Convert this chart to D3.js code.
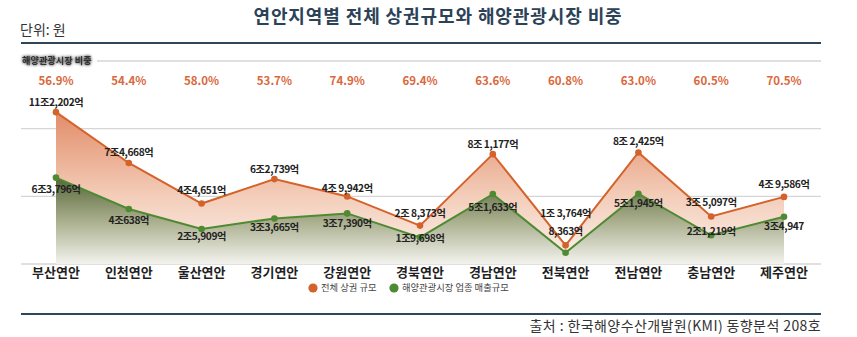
<!DOCTYPE html>
<html><head><meta charset="utf-8">
<script src="https://cdn.jsdelivr.net/npm/d3@7"></script>
<style>
html,body{margin:0;padding:0;background:#fff;}
svg{display:block;font-family:"Noto Sans CJK KR","Noto Sans",sans-serif;}
</style></head>
<body>
<svg id="chart" width="857" height="337"></svg>
<script>
// ---- data ----
const categories = ["부산연안","인천연안","울산연안","경기연안","강원연안","경북연안","경남연안","전북연안","전남연안","충남연안","제주연안"];
// 단위: 조 원
const totalMarket = [11.2202, 7.4668, 4.4651, 6.2739, 4.9942, 2.8373, 8.1177, 1.3764, 8.2425, 3.5097, 4.9586];
const marineTourism = [6.3796, 4.0638, 2.5909, 3.3665, 3.7390, 1.9698, 5.1633, 0.8363, 5.1945, 2.1219, 3.4947];
const shareLabels = ["56.9%","54.4%","58.0%","53.7%","74.9%","69.4%","63.6%","60.8%","63.0%","60.5%","70.5%"];
const totalLabels = ["11조2,202억","7조4,668억","4조4,651억","6조2,739억","4조 9,942억","2조 8,373억","8조 1,177억","1조 3,764억","8조 2,425억","3조 5,097억","4조 9,586억"];
const marineLabels = ["6조3,796억","4조638억","2조5,909억","3조3,665억","3조7,390억","1조9,698억","5조1,633억","8,363억","5조1,945억","2조1,219억","3조4,947"];
const gridTicks = [0, 5, 10, 15];

// ---- layout / style ----
const totalLabelDy = [-9,-10,-12,-9,-7,-11,-9,-31,-10,-13,-12];
const marineLabelDy = [13,12,8,10,11,2,14,-20,11,-3,11];
const orange = "#d4622a", green = "#4e8a32";

const svg = d3.select("#chart");
const x = d3.scalePoint().domain(categories).range([56, 784]);
const y = d3.scaleLinear().domain([0, 15]).range([264, 61]);

const defs = svg.append("defs");
const og = defs.append("linearGradient").attr("id","og").attr("gradientUnits","userSpaceOnUse")
  .attr("x1",0).attr("x2",0).attr("y1",y(11.2)).attr("y2",y(0));
og.append("stop").attr("offset",0).attr("stop-color","#e28d69");
og.append("stop").attr("offset",0.55).attr("stop-color","#f3cdb9");
og.append("stop").attr("offset",1).attr("stop-color","#fcf3ee");
const gg = defs.append("linearGradient").attr("id","gg").attr("gradientUnits","userSpaceOnUse")
  .attr("x1",0).attr("x2",0).attr("y1",y(6.4)).attr("y2",y(0));
gg.append("stop").attr("offset",0).attr("stop-color","#55673a");
gg.append("stop").attr("offset",0.5).attr("stop-color","#a9ae8c");
gg.append("stop").attr("offset",1).attr("stop-color","#f3f3ee");
const sh = defs.append("filter").attr("id","sh").attr("x","-20%").attr("y","-60%").attr("width","140%").attr("height","220%");
sh.append("feGaussianBlur").attr("in","SourceAlpha").attr("stdDeviation",1.7).attr("result","b");
sh.append("feComponentTransfer").attr("in","b").attr("result","b2")
  .append("feFuncA").attr("type","linear").attr("slope",1.1);
const m = sh.append("feMerge"); m.append("feMergeNode").attr("in","b2"); m.append("feMergeNode").attr("in","SourceGraphic");

// title
svg.append("text").attr("x",438).attr("y",23).attr("text-anchor","middle")
  .attr("font-size",18).attr("font-weight",700).attr("fill","#2c4257").attr("letter-spacing",0.9)
  .text("연안지역별 전체 상권규모와 해양관광시장 비중");
svg.append("text").attr("x",20).attr("y",35).attr("font-size",14).attr("fill","#333").text("단위: 원");
svg.append("line").attr("x1",21).attr("x2",821).attr("y1",43).attr("y2",43).attr("stroke","#2f4559").attr("stroke-width",2);

// grid lines
svg.append("g").selectAll("line").data(gridTicks).join("line")
  .attr("x1", d => d === 15 ? 97 : 21).attr("x2",821)
  .attr("y1", d => y(d)).attr("y2", d => y(d))
  .attr("stroke","#d6d6d6").attr("stroke-width",1.3);

svg.append("text").attr("x",22).attr("y",61).attr("dominant-baseline","middle")
  .attr("font-size",9.2).attr("font-weight",700).attr("fill","#333").attr("filter","url(#sh)")
  .text("해양관광시장 비중");

// share labels
svg.append("g").selectAll("text").data(shareLabels).join("text")
  .attr("x",(d,i)=>x(categories[i])).attr("y",82).attr("text-anchor","middle").attr("dominant-baseline","middle")
  .attr("font-size",11.5).attr("font-weight",700).attr("fill","#d9683c").text(d=>d);

// areas
const idx = d3.range(categories.length);
const areaT = d3.area().x(i=>x(categories[i])).y0(y(0)).y1(i=>y(totalMarket[i]));
const areaM = d3.area().x(i=>x(categories[i])).y0(y(0)).y1(i=>y(marineTourism[i]));
svg.append("path").attr("d",areaT(idx)).attr("fill","url(#og)");
svg.append("path").attr("d",areaM(idx)).attr("fill","url(#gg)");

const lineT = d3.line().x(i=>x(categories[i])).y(i=>y(totalMarket[i]));
const lineM = d3.line().x(i=>x(categories[i])).y(i=>y(marineTourism[i]));
svg.append("path").attr("d",lineT(idx)).attr("fill","none").attr("stroke",orange).attr("stroke-width",2);
svg.append("path").attr("d",lineM(idx)).attr("fill","none").attr("stroke",green).attr("stroke-width",2);
svg.append("g").selectAll("circle").data(idx).join("circle")
  .attr("cx",i=>x(categories[i])).attr("cy",i=>y(totalMarket[i])).attr("r",3.3).attr("fill",orange);
svg.append("g").selectAll("circle").data(idx).join("circle")
  .attr("cx",i=>x(categories[i])).attr("cy",i=>y(marineTourism[i])).attr("r",3.3).attr("fill",green);

// value labels
const vl = {"font-size":10.2,"font-weight":700,"fill":"#222","letter-spacing":-0.4};
const tl = svg.append("g").selectAll("text").data(idx).join("text")
  .attr("x",i=>x(categories[i])).attr("y",i=>y(totalMarket[i])+totalLabelDy[i])
  .attr("text-anchor","middle").attr("dominant-baseline","middle").text(i=>totalLabels[i]);
const ml = svg.append("g").selectAll("text").data(idx).join("text")
  .attr("x",i=>x(categories[i])).attr("y",i=>y(marineTourism[i])+marineLabelDy[i])
  .attr("text-anchor","middle").attr("dominant-baseline","middle").text(i=>marineLabels[i]);
for (const k in vl) { tl.attr(k, vl[k]); ml.attr(k, vl[k]); }

// category axis
svg.append("g").selectAll("text").data(categories).join("text")
  .attr("x",d=>x(d)).attr("y",273).attr("text-anchor","middle").attr("dominant-baseline","middle")
  .attr("font-size",13).attr("font-weight",700).attr("fill","#1f1f1f").text(d=>d);

// legend
const legend = [{c:orange,t:"전체 상권 규모",x:313},{c:green,t:"해양관광시장 업종 매출규모",x:394}];
const lg = svg.append("g").selectAll("g").data(legend).join("g").attr("transform",d=>`translate(${d.x},288)`);
lg.append("circle").attr("r",4.6).attr("fill",d=>d.c);
lg.append("text").attr("x",8).attr("dominant-baseline","middle").attr("font-size",9.3).attr("fill","#444").text(d=>d.t);

svg.append("line").attr("x1",21).attr("x2",821).attr("y1",314).attr("y2",314).attr("stroke","#2f4559").attr("stroke-width",2);
svg.append("text").attr("x",821).attr("y",327).attr("text-anchor","end").attr("dominant-baseline","middle")
  .attr("font-size",14).attr("fill","#333").attr("letter-spacing",0.4).text("출처 : 한국해양수산개발원(KMI) 동향분석 208호");
</script>
</body></html>
